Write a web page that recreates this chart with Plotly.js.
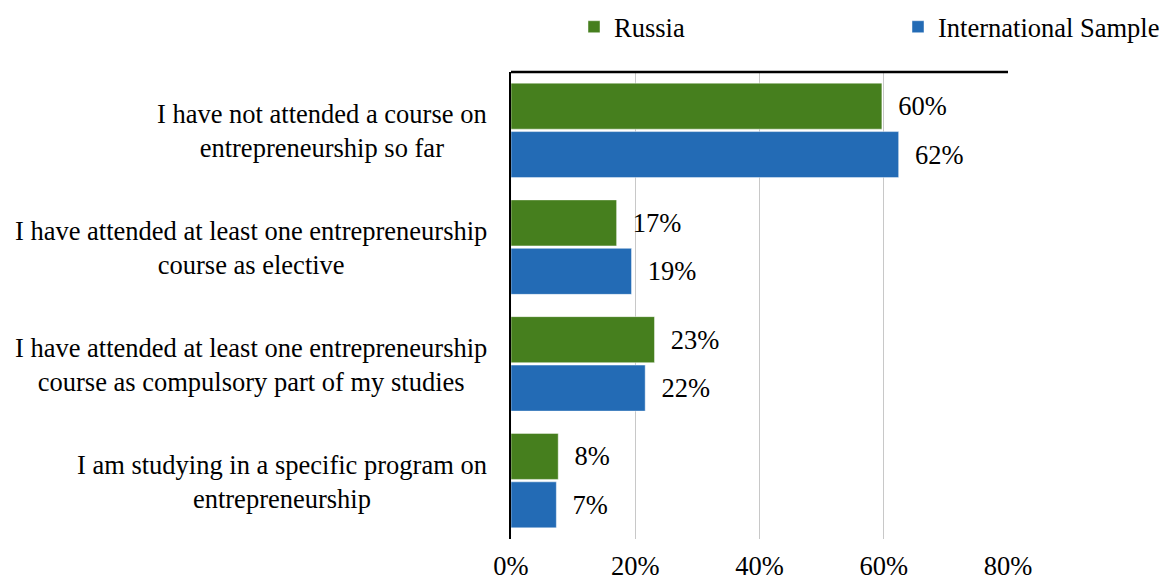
<!DOCTYPE html>
<html>
<head>
<meta charset="utf-8">
<script src="https://cdn.plot.ly/plotly-3.0.1.min.js"></script>
<style>html,body{margin:0;padding:0;background:#fff;}#chart{width:1168px;height:582px;}</style>
</head>
<body>
<div id="chart"></div>
<script>
const categories = [
  "I have not attended a course on<br>entrepreneurship so far",
  "I have attended at least one entrepreneurship<br>course as elective",
  "I have attended at least one entrepreneurship<br>course as compulsory part of my studies",
  "I am studying in a specific program on<br>entrepreneurship"
];
const russia = [59.7, 17.0, 23.1, 7.6];
const international = [62.4, 19.4, 21.6, 7.3];
const seriesNames = ["Russia", "International Sample"];
const xTicks = [0, 20, 40, 60, 80];
const xTickLabels = ["0%", "20%", "40%", "60%", "80%"];

const FONT = "Liberation Serif, Times New Roman, serif";
const FS = 26.5;
const NB = "\u00a0\u00a0";

const traces = [
  {
    type: "bar", orientation: "h", name: seriesNames[0], legend: "legend",
    x: russia, y: categories,
    marker: {color: "#467F1E", line: {color: "rgba(255,255,255,0.45)", width: 1}},
    texttemplate: NB + "%{x:.0f}%", textposition: "outside", cliponaxis: false,
    textfont: {family: FONT, size: FS, color: "#000"},
    hoverinfo: "none"
  },
  {
    type: "bar", orientation: "h", name: seriesNames[1], legend: "legend2",
    x: international, y: categories,
    marker: {color: "#236BB5", line: {color: "rgba(255,255,255,0.45)", width: 1}},
    texttemplate: NB + "%{x:.0f}%", textposition: "outside", cliponaxis: false,
    textfont: {family: FONT, size: FS, color: "#000"},
    hoverinfo: "none"
  }
];

const annotations = categories.map(c => ({
  xref: "paper", yref: "y", x: 0, y: c, xanchor: "right", yanchor: "middle",
  xshift: -22, yshift: -1, text: c, align: "center", showarrow: false,
  font: {family: FONT, size: FS, color: "#000"}
}));

const legendBase = {
  orientation: "h", xref: "container", yref: "container",
  xanchor: "left", yanchor: "middle", y: 1 - 27/582,
  font: {family: FONT, size: FS, color: "#000"},
  bgcolor: "rgba(0,0,0,0)", borderwidth: 0
};

const layout = {
  width: 1168, height: 582,
  margin: {l: 511, r: 160, t: 72, b: 43, pad: 0, autoexpand: false},
  paper_bgcolor: "#fff", plot_bgcolor: "#fff",
  font: {family: FONT, size: FS, color: "#000"},
  barmode: "group", bargap: 0.17, bargroupgap: 0.05,
  showlegend: true,
  legend: Object.assign({}, legendBase, {x: 574/1168}),
  legend2: Object.assign({}, legendBase, {x: 898/1168}),
  xaxis: {
    range: [0, 80], tickvals: xTicks, ticktext: xTickLabels,
    showgrid: true, gridcolor: "#C8C8C8", gridwidth: 1,
    zeroline: false, showline: false, ticks: "",
    ticklabelstandoff: 8,
    tickfont: {family: FONT, size: FS, color: "#000"},
    fixedrange: true
  },
  yaxis: {
    autorange: "reversed", showticklabels: false, ticks: "",
    showline: true, linecolor: "#000", linewidth: 2,
    showgrid: false, zeroline: false, fixedrange: true
  },
  annotations: annotations,
  shapes: [{
    type: "line", xref: "paper", yref: "paper", x0: 0, x1: 1, y0: 1, y1: 1,
    line: {color: "#000", width: 2.5}
  }]
};

Plotly.newPlot("chart", traces, layout, {displayModeBar: false, staticPlot: true});
</script>
</body>
</html>
